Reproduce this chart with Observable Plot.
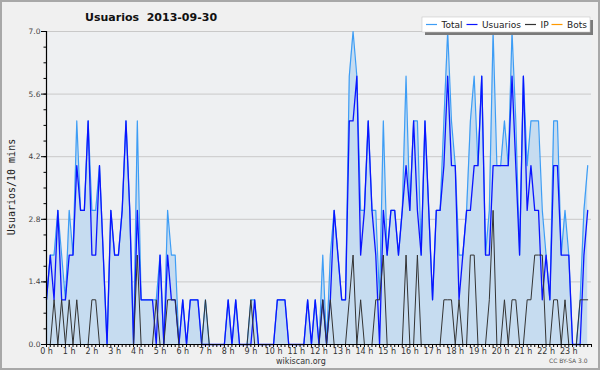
<!DOCTYPE html>
<html>
<head>
<meta charset="utf-8">
<script src="https://cdn.jsdelivr.net/npm/d3@7"></script>
<script src="https://cdn.jsdelivr.net/npm/@observablehq/plot@0.6"></script>
<style>
  html, body { margin: 0; padding: 0; background: #ffffff; }
  #wrap { position: relative; width: 600px; height: 370px; background: #f0f0f0; overflow: hidden; }
  #wrap > svg { position: absolute; left: 0; top: 0; }
  #overlay { pointer-events: none; }
</style>
</head>
<body>
<div id="wrap"></div>
<script>
// ---- Data (10-minute bins, 2013-09-30) ----
const title = "Usuarios  2013-09-30";
const yLabel = "Usuarios/10 mins";
const seriesNames = ["Total", "Usuarios", "IP", "Bots"];
const seriesColors = ["#3d9df5", "#0a14ff", "#333333", "#ff9900"];
const yTicks = [0, 1.4, 2.8, 4.2, 5.6, 7.0];
const hourLabels = ["0 h","1 h","2 h","3 h","4 h","5 h","6 h","7 h","8 h","9 h","10 h","11 h","12 h","13 h","14 h","15 h","16 h","17 h","18 h","19 h","20 h","21 h","22 h","23 h"];

const total = [
  1,2,2,3,2,1,3,2,5,3,
  3,5,3,3,4,2,0,3,2,2,
  3,5,3,0,5,1,1,1,1,1,
  2,0,3,2,2,0,1,0,1,1,
  1,0,1,0,0,0,0,0,1,0,
  1,0,0,0,1,1,0,0,0,0,
  0,1,1,1,0,0,0,0,0,1,
  0,1,0,2,0,2,3,2,1,1,
  6,7,6,3,3,5,3,3,1,5,
  2,3,3,2,3,6,3,5,5,2,
  5,3,1,3,3,5,7,5,4,2,
  2,3,5,6,4,6,2,3,7,4,
  4,5,4,7,5,2,6,4,5,5,
  5,3,2,1,5,5,2,3,2,0,
  0,1,3,4
];
const usuarios = [
  1,2,1,3,1,1,2,2,4,3,
  3,5,2,2,4,2,0,3,2,2,
  3,5,3,0,3,1,1,1,1,0,
  2,0,2,1,1,0,1,0,1,1,
  1,0,0,0,0,0,0,0,1,0,
  1,0,0,0,0,1,0,0,0,0,
  0,1,1,1,0,0,0,0,0,1,
  0,1,0,1,0,1,3,2,1,1,
  5,5,6,2,3,5,3,2,0,3,
  2,3,3,2,3,4,3,5,3,2,
  5,3,1,3,3,4,6,4,4,1,
  2,3,3,4,4,6,2,2,4,4,
  4,4,4,6,4,2,6,3,4,3,
  3,1,2,1,4,4,2,2,2,0,
  0,0,2,3
];
const ip = [
  0,0,1,0,1,0,1,0,1,0,
  0,0,1,1,0,0,0,0,0,0,
  0,0,0,0,2,0,0,0,0,1,
  0,0,1,1,1,0,0,0,0,0,
  0,0,1,0,0,0,0,0,0,0,
  0,0,0,0,1,0,0,0,0,0,
  0,0,0,0,0,0,0,0,0,0,
  0,0,0,1,0,1,0,0,0,0,
  1,2,0,1,0,0,0,1,1,2,
  0,0,0,0,0,2,0,0,2,0,
  0,0,0,0,0,1,1,1,0,1,
  0,0,2,2,0,0,0,1,3,0,
  0,1,0,1,1,0,0,1,1,2,
  2,2,0,0,1,1,0,1,0,0,
  0,1,1,1
];
const bots = [
  0,0,0,0,0,0,0,0,0,0,
  0,0,0,0,0,0,0,0,0,0,
  0,0,0,0,0,0,0,0,0,0,
  0,0,0,0,0,0,0,0,0,0,
  0,0,0,0,0,0,0,0,0,0,
  0,0,0,0,0,0,0,0,0,0,
  0,0,0,0,0,0,0,0,0,0,
  0,0,0,0,0,0,0,0,0,0,
  0,0,0,0,0,0,0,0,0,0,
  0,0,0,0,0,0,0,0,0,0,
  0,0,0,0,0,0,0,0,0,0,
  0,0,0,0,0,0,0,0,0,0,
  0,0,0,0,0,0,0,0,0,0,
  0,0,0,0,0,0,0,0,0,0,
  0,0,0,0
];

// ---- Build table: bin i starts at i*10 minutes ----
const data = total.map((t, i) => ({
  h: i / 6, total: t, usuarios: usuarios[i], ip: ip[i], bots: bots[i]
}));
const hourTicks = hourLabels.map((_, i) => i);
const xMinor = d3.range(0, 145).map(i => i / 6);
const yMinor = d3.range(0, 21).map(i => +(i * 0.35).toFixed(2));

const chart = Plot.plot({
  width: 600,
  height: 370,
  marginLeft: 46,
  marginRight: 9,
  marginTop: 31,
  marginBottom: 26,
  x: { domain: [0, 24], axis: null, label: null },
  y: { domain: [0, 7], axis: null, label: null },
  style: { background: "transparent", fontFamily: "DejaVu Sans, sans-serif", color: "#333" },
  marks: [
    Plot.frame({ fill: "#eef0f2", stroke: null }),
    Plot.ruleY(yTicks.slice(1), { stroke: "#c9c9c9", strokeWidth: 1 }),
    Plot.areaY(data, { x: "h", y: "total", fill: "#c6dcf0" }),
    Plot.lineY(data, { x: "h", y: "total", stroke: seriesColors[0], strokeWidth: 1.2 }),
    Plot.lineY(data, { x: "h", y: "usuarios", stroke: seriesColors[1], strokeWidth: 1.3 }),
    Plot.lineY(data, { x: "h", y: "ip", stroke: seriesColors[2], strokeWidth: 1 }),
    Plot.lineY(data, { x: "h", y: "bots", stroke: seriesColors[3], strokeWidth: 1 }),
    Plot.ruleY([0], { stroke: "#000", strokeWidth: 1.2 }),
    Plot.ruleX([0], { stroke: "#000", strokeWidth: 1.2 }),
    Plot.axisY(yMinor, { tickSize: 2.5, text: null, stroke: "#000", label: null }),
    Plot.axisY(yTicks, { tickSize: 5, tickPadding: 1, tickFormat: d => d.toFixed(1), fontSize: 7.5, fill: "#444", stroke: "#000", label: null }),
    Plot.axisX(xMinor, { tickSize: 3, text: null, stroke: "#000", label: null }),
    Plot.axisX(hourTicks, { tickSize: 0, tickPadding: 4, tickFormat: (d, i) => hourLabels[i], fontSize: 8, fill: "#333", label: null })
  ]
});
document.getElementById("wrap").appendChild(chart);

// ---- Title, axis label, legend, footer ----
const ov = d3.select("#wrap").append("svg")
  .attr("id", "overlay").attr("width", 600).attr("height", 370)
  .style("font-family", "DejaVu Sans, sans-serif");

ov.append("text").attr("x", 85).attr("y", 21)
  .attr("font-size", 11).attr("font-weight", "bold").attr("fill", "#111")
  .attr("xml:space", "preserve").style("white-space", "pre")
  .text(title);

ov.append("text").attr("transform", "translate(14.5,187) rotate(-90)")
  .attr("text-anchor", "middle").attr("font-size", 10)
  .attr("font-family", "DejaVu Sans Mono, monospace").attr("fill", "#222")
  .text(yLabel);

// legend
const lg = ov.append("g");
lg.append("rect").attr("x", 425).attr("y", 20).attr("width", 168).attr("height", 15).attr("fill", "#7a7a7a");
lg.append("rect").attr("x", 422).attr("y", 17).attr("width", 168).attr("height", 15)
  .attr("fill", "#ffffff").attr("stroke", "#c8c8c8").attr("stroke-width", 0.6);
const legendX = [426, 466.5, 525, 551.5];
seriesNames.forEach((name, i) => {
  lg.append("line").attr("x1", legendX[i]).attr("x2", legendX[i] + 11)
    .attr("y1", 24.5).attr("y2", 24.5).attr("stroke", seriesColors[i]).attr("stroke-width", 1.2);
  lg.append("text").attr("x", legendX[i] + 15.5).attr("y", 28.3)
    .attr("font-size", 9).attr("fill", "#222").text(name);
});

ov.append("text").attr("x", 276).attr("y", 364).attr("font-size", 8).attr("fill", "#333").text("wikiscan.org");
ov.append("text").attr("x", 549).attr("y", 363).attr("font-size", 6).attr("fill", "#555").text("CC BY-SA 3.0");

ov.append("rect").attr("x", 1).attr("y", 1).attr("width", 598).attr("height", 368)
  .attr("fill", "none").attr("stroke", "#a8a8a8").attr("stroke-width", 2);
</script>
</body>
</html>
